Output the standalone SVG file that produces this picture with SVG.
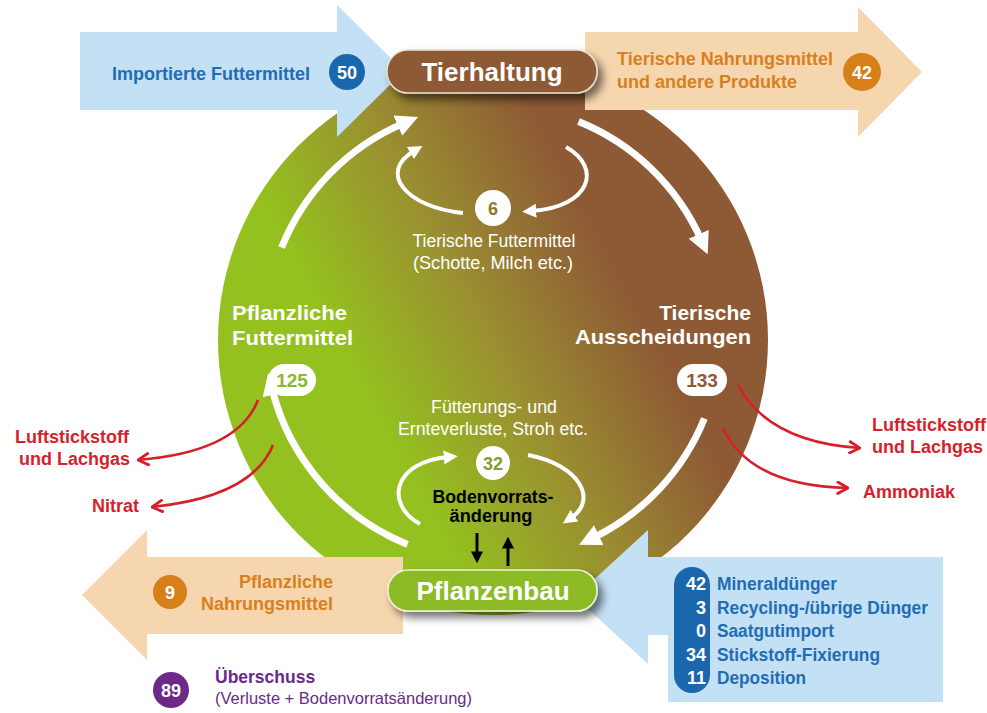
<svg xmlns="http://www.w3.org/2000/svg" width="987" height="713" viewBox="0 0 987 713">
<defs>
<linearGradient id="bg" gradientUnits="userSpaceOnUse" x1="375" y1="410" x2="620" y2="280">
<stop offset="0" stop-color="#94c11f"/>
<stop offset="0.5" stop-color="#9a8e31"/>
<stop offset="1" stop-color="#8e5a35"/>
</linearGradient>
<filter id="sh" x="-20%" y="-40%" width="150%" height="200%">
<feDropShadow dx="5" dy="6" stdDeviation="4" flood-color="#000" flood-opacity="0.55"/>
</filter>
<marker id="mBig" viewBox="0 0 10 10" markerUnits="userSpaceOnUse" markerWidth="22" markerHeight="22" refX="3" refY="5" orient="auto">
<path d="M0,0 L10,5 L0,10 Z" fill="#fff"/>
</marker>
<marker id="mSmall" viewBox="0 0 10 10" markerUnits="userSpaceOnUse" markerWidth="14" markerHeight="14" refX="3" refY="5" orient="auto">
<path d="M0,0 L10,5 L0,10 Z" fill="#fff"/>
</marker>
<marker id="mRed" viewBox="0 0 10 10" markerUnits="userSpaceOnUse" markerWidth="14" markerHeight="14" refX="9" refY="5" orient="auto">
<path d="M1,0.5 L9,5 L1,9.5" fill="none" stroke="#d71f2b" stroke-width="2" stroke-linejoin="miter"/>
</marker>
<marker id="mBlack" viewBox="0 0 10 10" markerUnits="userSpaceOnUse" markerWidth="12" markerHeight="12" refX="3" refY="5" orient="auto">
<path d="M0,0 L10,5 L0,10 Z" fill="#000"/>
</marker>
</defs>
<style>
text{font-family:"Liberation Sans",Arial,sans-serif}
.b{font-weight:bold}
.w{fill:#fff}
.blue{fill:#1f6db3}
.org{fill:#d9801e}
.red{fill:#d71f2b}
.pur{fill:#6b2a88}
.lb{fill:#c4e0f4}
.lo{fill:#f6d6ae}
.bigarc{fill:none;stroke:#fff;stroke-width:7;marker-end:url(#mBig)}
.smarc{fill:none;stroke:#fff;stroke-width:4;marker-end:url(#mSmall)}
.redarr{fill:none;stroke:#d71f2b;stroke-width:2.6;marker-end:url(#mRed)}
.blk{fill:none;stroke:#000;stroke-width:3;marker-end:url(#mBlack)}
</style>

<g id="cycle-background">
<circle cx="493" cy="340" r="275" fill="url(#bg)"/>
</g>

<g id="import-feed">
<path class="lb" d="M80,32 H337 V5 L404,71 L337,137 V110 H80 Z"/>
<text class="b blue" x="112" y="80" font-size="18" textLength="198" lengthAdjust="spacingAndGlyphs">Importierte Futtermittel</text>
<circle cx="347" cy="72" r="18" fill="#1a67ad"/>
<text class="b w" x="347" y="79" font-size="18" text-anchor="middle">50</text>
</g>

<g id="animal-products">
<path class="lo" d="M585,32 H858 V7 L922,72 L858,137 V110 H585 Z"/>
<text class="b org" x="617" y="65" font-size="18" textLength="216" lengthAdjust="spacingAndGlyphs">Tierische Nahrungsmittel</text>
<text class="b org" x="617" y="88" font-size="18">und andere Produkte</text>
<circle cx="862" cy="72" r="19" fill="#d77f18"/>
<text class="b w" x="862" y="79" font-size="18" text-anchor="middle">42</text>
</g>

<g id="plant-food">
<path class="lo" d="M403,557 H147 V530 L82,595 L147,660 V634 H403 Z"/>
<circle cx="170" cy="592" r="17" fill="#d77f18"/>
<text class="b w" x="170" y="599" font-size="18" text-anchor="middle">9</text>
<text class="b org" x="333" y="588" font-size="18" text-anchor="end">Pflanzliche</text>
<text class="b org" x="333" y="610" font-size="18" text-anchor="end">Nahrungsmittel</text>
</g>

<g id="inputs">
<path class="lb" d="M943,557 H648 V530 L575,597 L648,664 V635 H668 V702 H943 Z"/>
<rect x="674" y="567" width="36" height="126" rx="18" fill="#1a67ad"/>
<g class="b" font-size="18">
<text class="w" x="706" y="590" text-anchor="end">42</text>
<text class="w" x="706" y="614" text-anchor="end">3</text>
<text class="w" x="706" y="637" text-anchor="end">0</text>
<text class="w" x="706" y="661" text-anchor="end">34</text>
<text class="w" x="706" y="684" text-anchor="end">11</text>
<text class="blue" x="717" y="590" textLength="120" lengthAdjust="spacingAndGlyphs">Mineraldünger</text>
<text class="blue" x="717" y="614" textLength="211" lengthAdjust="spacingAndGlyphs">Recycling-/übrige Dünger</text>
<text class="blue" x="717" y="637" textLength="117" lengthAdjust="spacingAndGlyphs">Saatgutimport</text>
<text class="blue" x="717" y="661" textLength="163" lengthAdjust="spacingAndGlyphs">Stickstoff-Fixierung</text>
<text class="blue" x="717" y="684" textLength="89" lengthAdjust="spacingAndGlyphs">Deposition</text>
</g>
</g>

<g id="connectors">
<path class="bigarc" d="M281.6,247.5 A228,228 0 0 1 403.9,123.1"/>
<path class="bigarc" d="M578.5,121.6 A228,228 0 0 1 701.4,240.3"/>
<path class="bigarc" d="M704.4,418.5 A228,228 0 0 1 592.9,538"/>
<path class="bigarc" d="M407.5,544.4 A228,228 0 0 1 271.8,388.2"/>
<path class="smarc" d="M463,213 C405,207 378,172 414,151"/>
<path class="smarc" d="M566,147 C603,168 590,207 532,211"/>
<path class="smarc" d="M420,524 C385,505 392,462 448,457"/>
<path class="smarc" d="M528,455 C580,465 598,500 571,518"/>
<path class="redarr" d="M258,400 Q238,452 138,460"/>
<path class="redarr" d="M273,445 Q252,497 152,507"/>
<path class="redarr" d="M738,385 Q768,442 860,448"/>
<path class="redarr" d="M723,428 Q750,486 848,488"/>
<path class="blk" d="M477,533 V555"/>
<path class="blk" d="M508,566 V545"/>
</g>

<g id="tierhaltung">
<rect x="387" y="50" width="210" height="43" rx="21" fill="#8e5a34" stroke="#eadfcf" stroke-width="1.5" filter="url(#sh)"/>
<text class="b w" x="492" y="81" font-size="26" text-anchor="middle">Tierhaltung</text>
</g>

<g id="pflanzenbau">
<rect x="388" y="570" width="209" height="41" rx="20" fill="#8dbb25" stroke="#eef3dc" stroke-width="1.5" filter="url(#sh)"/>
<text class="b w" x="493" y="600" font-size="26" text-anchor="middle">Pflanzenbau</text>
</g>

<g id="animal-feed">
<circle cx="493" cy="208" r="18" fill="#fff"/>
<text class="b" x="493" y="215" font-size="18" text-anchor="middle" fill="#8d7a33">6</text>
<text class="w" x="494" y="247" font-size="18" text-anchor="middle" textLength="163" lengthAdjust="spacingAndGlyphs">Tierische Futtermittel</text>
<text class="w" x="493" y="269" font-size="18" text-anchor="middle" textLength="160" lengthAdjust="spacingAndGlyphs">(Schotte, Milch etc.)</text>
</g>

<g id="plant-feed">
<text class="b w" x="232" y="320" font-size="21" textLength="115" lengthAdjust="spacingAndGlyphs">Pflanzliche</text>
<text class="b w" x="232" y="345" font-size="21" textLength="121" lengthAdjust="spacingAndGlyphs">Futtermittel</text>
<rect x="268" y="364" width="48" height="32" rx="16" fill="#fff"/>
<text class="b" x="292" y="387" font-size="19" text-anchor="middle" fill="#8db630">125</text>
</g>

<g id="excretions">
<text class="b w" x="751" y="320" font-size="21" text-anchor="end">Tierische</text>
<text class="b w" x="751" y="344" font-size="21" text-anchor="end" textLength="176" lengthAdjust="spacingAndGlyphs">Ausscheidungen</text>
<rect x="677" y="364" width="50" height="32" rx="16" fill="#fff"/>
<text class="b" x="702" y="387" font-size="19" text-anchor="middle" fill="#8c5a35">133</text>
</g>

<g id="losses-soil">
<text class="w" x="494" y="413" font-size="18" text-anchor="middle" textLength="126" lengthAdjust="spacingAndGlyphs">Fütterungs- und</text>
<text class="w" x="493" y="435" font-size="18" text-anchor="middle" textLength="190" lengthAdjust="spacingAndGlyphs">Ernteverluste, Stroh etc.</text>
<circle cx="493" cy="463" r="17" fill="#fff"/>
<text class="b" x="493" y="470" font-size="18" text-anchor="middle" fill="#8a9a2f">32</text>
<text class="b" x="493" y="503" font-size="18" text-anchor="middle" fill="#000" textLength="121" lengthAdjust="spacingAndGlyphs">Bodenvorrats-</text>
<text class="b" x="491" y="522" font-size="18" text-anchor="middle" fill="#000" textLength="83" lengthAdjust="spacingAndGlyphs">änderung</text>
</g>

<g id="emissions-left">
<text class="b red" x="15" y="443" font-size="18">Luftstickstoff</text>
<text class="b red" x="19" y="465" font-size="18">und Lachgas</text>
<text class="b red" x="92" y="512" font-size="18">Nitrat</text>
</g>

<g id="emissions-right">
<text class="b red" x="872" y="431" font-size="18">Luftstickstoff</text>
<text class="b red" x="872" y="453" font-size="18">und Lachgas</text>
<text class="b red" x="863" y="498" font-size="18">Ammoniak</text>
</g>

<g id="surplus">
<circle cx="171" cy="690" r="18" fill="#6b2a88"/>
<text class="b w" x="171" y="697" font-size="18" text-anchor="middle">89</text>
<text class="b pur" x="215" y="683" font-size="17.5">Überschuss</text>
<text class="pur" x="215" y="704" font-size="16.5" textLength="257" lengthAdjust="spacingAndGlyphs">(Verluste + Bodenvorratsänderung)</text>
</g>
</svg>
